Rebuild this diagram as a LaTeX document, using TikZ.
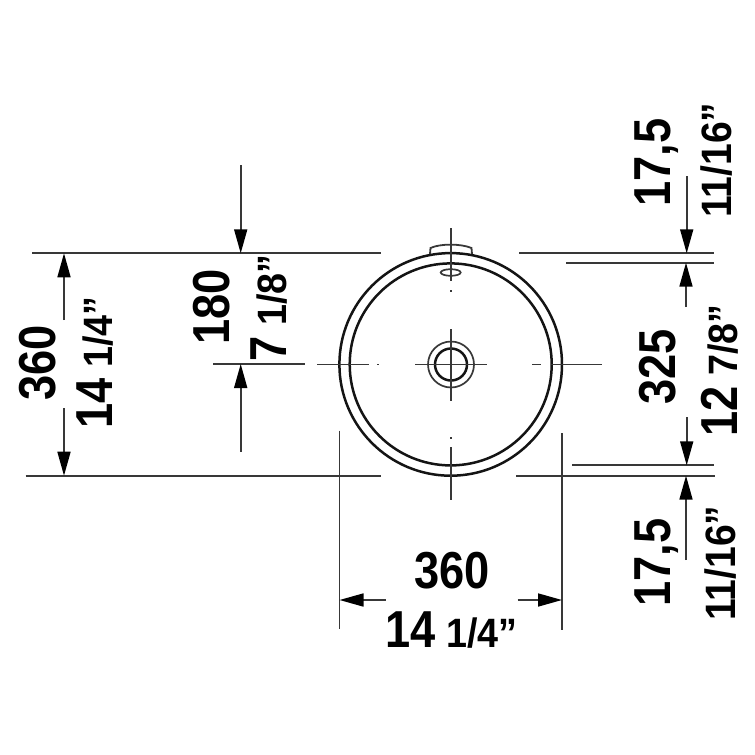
\documentclass[tikz,border=0pt]{standalone}
\usepackage{fontspec}
\usetikzlibrary{arrows.meta}
\newfontfamily\dimfont[FakeStretch=.87]{Liberation Sans}
\newfontfamily\fracfont[FakeStretch=.92]{Liberation Sans}
\newcommand{\smalltxt}[1]{\hspace{11pt}{\fracfont\fontsize{41}{41}\selectfont #1}}
\newcommand{\sizetxt}[1]{{\fracfont\fontsize{42.5}{42.5}\selectfont #1}}
\tikzset{
  dimtxt/.style={inner sep=0pt,anchor=base west,text=black,font=\dimfont\bfseries\fontsize{52}{52}\selectfont},
  sidetxt/.style={dimtxt,rotate=90},
  thinline/.style={line width=1.7pt,black!78},
  rimline/.style={line width=2.5pt,black!92},
  >={Triangle[length=24pt,width=13pt,black]}
}
\begin{document}
\begin{tikzpicture}[x=1pt,y=-1pt]
	\useasboundingbox (0, 0) rectangle (755, 755);
	\foreach \r in {111.3,101}
	{
		\draw[rimline](450.7, 364.4) circle (\r);
	}
	\draw[rimline](451, 364.5) circle (16);
	\draw[thinline](451, 364.5) circle (23);
	\draw[thinline, line width=1.8pt](430, 254) -- (430.5, 248) .. controls (440, 243.5) and (461, 243.5) .. (471.5, 248) -- (472, 254);
	\draw[thinline](450.7, 272.5) ellipse (10 and 3.3);
	\foreach \xa/\ya/\xb/\yb in {
		32/253.3/381/253.3,519/253.3/714/253.3,566/262.7/714/262.7,
		25.7/475.7/381/475.7,516/475.7/715/475.7,572/465.3/714/465.3,
		339.5/430.7/339.5/629,562/433/562/630,
		450.7/228/450.7/281,450.7/447/450.7/500,
		451/329/451/401,415/364.5/487/364.5,
		213/364/305/364,317/364.5/369/364.5,532/364.5/541/364.5,551/364.5/601.7/364.5,
		377/364.5/379/364.5,450.7/290/450.7/292,450.7/437/450.7/439}
	{
		\draw[thinline](\xa, \ya) -- (\xb, \yb);
	}
	\foreach \xa/\ya/\xb/\yb in {
		64/320/64/253.3,64/408/64/475.7,
		240.7/165/240.7/253.3,240.7/451.7/240.7/364,
		686.7/176/686.7/253.3,686/307/686/262.7,
		686.7/417/686.7/465.3,686/560/686/475.7,
		385.7/600/339.5/600,517.7/600/562/600}
	{
		\draw[->,thinline](\xa, \ya) -- (\xb, \yb);
	}
	\draw(414, 588) node(widthmm)[dimtxt] {360};
	\draw(385, 647) node(widthin)[dimtxt] {14\smalltxt{1/4”}};
	\draw(55, 401) node(depthmm)[sidetxt] {360};
	\draw(112, 429) node(depthin)[sidetxt] {14\smalltxt{1/4”}};
	\draw(229, 345) node(halfmm)[sidetxt] {180};
	\draw(286, 362) node(halfin)[sidetxt] {7\smalltxt{1/8”}};
	\draw(670, 207) node(rimtopmm)[sidetxt] {17,5};
	\draw(731, 218) node(rimtopin)[sidetxt] {\sizetxt{11/16”}};
	\draw(675, 405) node(innermm)[sidetxt] {325};
	\draw(737, 437) node(innerin)[sidetxt] {12\smalltxt{7/8”}};
	\draw(670, 607) node(rimlowmm)[sidetxt] {17,5};
	\draw(735, 621) node(rimlowin)[sidetxt] {\sizetxt{11/16”}};
\end{tikzpicture}
\end{document}
